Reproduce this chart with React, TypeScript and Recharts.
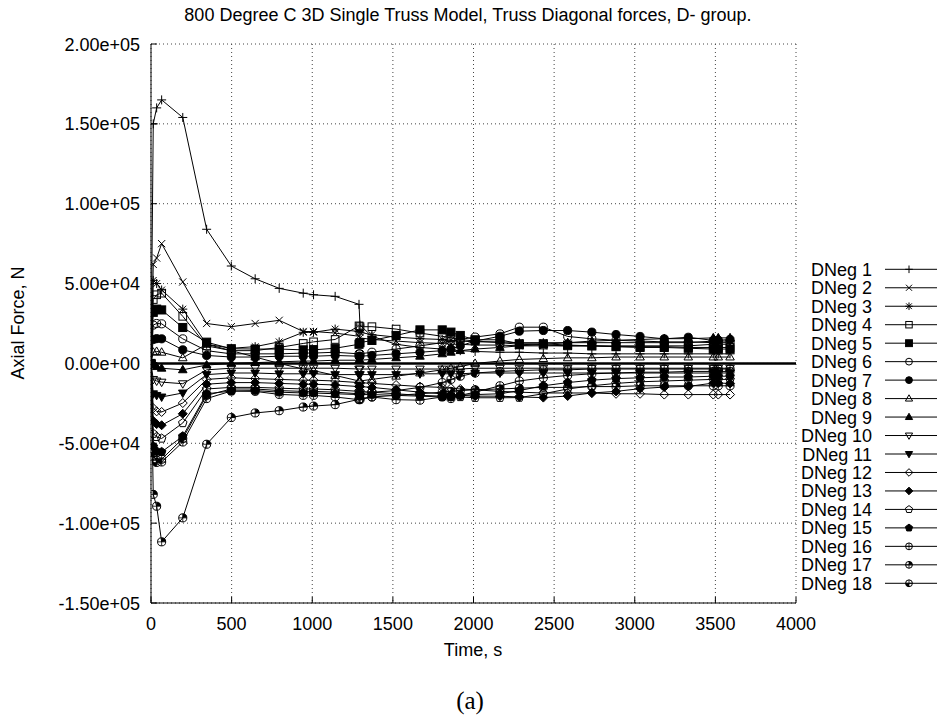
import React from 'react';
import { LineChart, Line, XAxis, YAxis, CartesianGrid, ReferenceLine, Legend } from 'recharts';

const FONT = '"Liberation Sans", Arial, Helvetica, sans-serif';

const times = [0, 14, 35, 66, 197, 345, 498, 646, 795, 944, 1008, 1142, 1290, 1296, 1370, 1520, 1668, 1806, 1860, 1918, 2010, 2164, 2284, 2433, 2584, 2734, 2884, 3033, 3183, 3332, 3487, 3518, 3591];

const dneg1 = [0, 150000, 160000, 165000, 154000, 84000, 61000, 53000, 47000, 44000, 43000, 42000, 37000, 24000, 17000, 12000, 10000, 9000, 8500, 8000, 7500, 7000, 7000, 6500, 6500, 6000, 6000, 6000, 6000, 6000, 6000, 6000, 6000];
const dneg2 = [0, 62000, 66000, 75000, 51000, 25000, 23000, 25000, 27000, 20000, 20000, 19000, 17000, 16000, 15000, 14000, 13000, 12500, 12000, 12000, 11500, 11500, 11000, 11000, 11000, 11000, 11000, 11000, 11000, 11000, 12000, 12000, 12000];
const dneg3 = [0, 52000, 50000, 46000, 34000, 12000, 9500, 10500, 13500, 19500, 19500, 21500, 20000, 19500, 18000, 16500, 15500, 15000, 14500, 14000, 13500, 13500, 13000, 13000, 13000, 13000, 13000, 13000, 13000, 13000, 14000, 14000, 14000];
const dneg4 = [0, 40000, 43000, 44000, 29500, 11000, 8000, 8000, 10000, 12500, 13500, 15000, 23500, 23000, 23000, 21500, 19000, 17000, 16000, 15000, 14000, 13000, 12000, 11500, 11000, 11000, 10500, 10500, 10500, 10000, 10000, 10000, 10000];
const dneg5 = [0, 32000, 34000, 33500, 22500, 13300, 9200, 9000, 9000, 8500, 8500, 9500, 12000, 13000, 14400, 17500, 21000, 21000, 19600, 17500, 14800, 14800, 12300, 12300, 11500, 11000, 10500, 10000, 10000, 9500, 9000, 9000, 9000];
const dneg6 = [0, 24000, 25000, 24800, 15400, 8000, 6000, 6000, 6000, 6500, 6500, 7000, 6000, 6000, 7000, 9000, 11000, 13000, 14000, 15000, 16500, 18500, 22700, 22700, 16900, 15400, 14500, 14000, 13500, 13500, 13000, 13000, 13000];
const dneg7 = [0, 15000, 15500, 15400, 8500, 5000, 4000, 4000, 4500, 4500, 4500, 5000, 4500, 4500, 5000, 6000, 7000, 8000, 9000, 11000, 14000, 17000, 20200, 20600, 20600, 19600, 18100, 16900, 15400, 16400, 14400, 14500, 15000];
const dneg8 = [0, 7000, 7500, 7000, 3500, 12000, 8000, 4000, 0, -3500, -4500, -7500, -11000, -11000, -10000, -8000, -6000, -4000, -3000, -2000, 0, 1500, 2500, 3000, 3500, 3500, 4000, 4000, 4000, 4000, 4000, 4000, 4000];
const dneg9 = [0, -1000, -2000, -3000, -4000, -1000, 0, 500, 1000, 1500, 1500, 2000, 2000, 2000, 2500, 3500, 4500, 6000, 7000, 8000, 9000, 10000, 11000, 12000, 13000, 14000, 14500, 15000, 15500, 15500, 16000, 16000, 16000];
const dneg10 = [0, -10000, -11000, -11700, -12700, -4000, -3000, -3000, -3000, -3000, -3000, -3000, -3500, -3500, -3500, -3500, -3500, -3500, -3500, -3500, -3000, -3000, -3000, -3000, -3000, -3000, -3000, -3000, -3000, -3000, -3000, -3000, -3000];
const dneg11 = [0, -19000, -20000, -21000, -18500, -7000, -6000, -6000, -6500, -6500, -6500, -7000, -7000, -7000, -7000, -7000, -6500, -6500, -6500, -6500, -6000, -6000, -6000, -6000, -6000, -6000, -6000, -6000, -6000, -6000, -6000, -6000, -6000];
const dneg12 = [0, -28000, -30000, -30400, -24800, -10000, -9000, -9500, -10000, -10500, -10500, -11000, -12000, -12000, -12500, -13500, -14500, -15000, -15500, -16000, -16500, -17500, -18000, -18500, -18500, -18500, -19000, -19000, -19500, -19500, -19500, -19500, -19500];
const dneg13 = [0, -36000, -38000, -38700, -31500, -13000, -12000, -12000, -12500, -13000, -13000, -13500, -14500, -14500, -15000, -16500, -18000, -19000, -19500, -20000, -20500, -20500, -21000, -21400, -20400, -18500, -17500, -15800, -14800, -14400, -12300, -12300, -12500];
const dneg14 = [0, -44000, -46000, -47000, -37300, -16000, -15000, -15000, -15500, -16000, -16000, -16500, -17500, -17500, -18000, -19000, -20000, -20500, -21000, -21000, -21500, -21500, -21400, -19000, -16000, -14000, -12500, -11500, -11000, -10500, -10000, -10000, -10000];
const dneg15 = [0, -52000, -55000, -55400, -45600, -19000, -17300, -17000, -18000, -18500, -18500, -19000, -19500, -19500, -19500, -20000, -20500, -21000, -21000, -20000, -19500, -19000, -17000, -14000, -12000, -10500, -9500, -9000, -8500, -8500, -8000, -8000, -8000];
const dneg16 = [0, -58000, -60600, -61700, -49200, -22000, -17300, -17500, -19400, -20000, -20000, -21000, -22700, -22700, -21000, -22700, -23000, -21000, -22000, -20000, -18000, -14000, -11000, -9000, -7500, -6500, -6000, -5500, -5500, -5000, -5000, -5000, -5000];
const dneg17 = [0, -82000, -89400, -111700, -96700, -50600, -33900, -31000, -29600, -27300, -26700, -25800, -22500, -22000, -21000, -20000, -19000, -18000, -17500, -17000, -16500, -16000, -15500, -15000, -15000, -14500, -14500, -14000, -14000, -14000, -14000, -14000, -14000];
const dneg18 = [0, -56000, -62000, -60000, -47000, -20000, -16000, -16000, -17000, -17500, -17500, -18000, -19000, -19000, -18000, -17000, -15000, -12000, -10000, -8000, -6000, -5000, -4500, -4000, -4000, -3500, -3500, -3500, -3500, -3500, -3500, -3500, -3500];

const seriesValues = [dneg1, dneg2, dneg3, dneg4, dneg5, dneg6, dneg7, dneg8, dneg9, dneg10, dneg11, dneg12, dneg13, dneg14, dneg15, dneg16, dneg17, dneg18];
const seriesNames = ['DNeg 1', 'DNeg 2', 'DNeg 3', 'DNeg 4', 'DNeg 5', 'DNeg 6', 'DNeg 7', 'DNeg 8', 'DNeg 9', 'DNeg 10', 'DNeg 11', 'DNeg 12', 'DNeg 13', 'DNeg 14', 'DNeg 15', 'DNeg 16', 'DNeg 17', 'DNeg 18'];

const xTicks = [0, 500, 1000, 1500, 2000, 2500, 3000, 3500, 4000];
const yTicks = [-150000, -100000, -50000, 0, 50000, 100000, 150000, 200000];
const yTickLabels = ['-1.50e+05', '-1.00e+05', '-5.00e+04', '0.00e+00', '5.00e+04', '1.00e+05', '1.50e+05', '2.00e+05'];

const data = times.map((t, i) => {
  const row: any = { t };
  seriesValues.forEach((arr, k) => { row['s' + (k + 1)] = arr[i]; });
  return row;
});

const Marker = ({ type, cx, cy, s = 4.5 }: { type: number; cx: number; cy: number; s?: number }) => {
  if (cx == null || cy == null || isNaN(cx) || isNaN(cy)) return null;
  const st = '#000';
  const r = s * 0.9;
  const tri = (up: boolean) => {
    const d = up ? 1 : -1;
    return `${cx},${cy - d * s} ${cx + s * 0.95},${cy + d * s * 0.65} ${cx - s * 0.95},${cy + d * s * 0.65}`;
  };
  const dia = `${cx},${cy - s} ${cx + s},${cy} ${cx},${cy + s} ${cx - s},${cy}`;
  const pent = [0, 1, 2, 3, 4].map((k) => {
    const a = -Math.PI / 2 + (k * 2 * Math.PI) / 5;
    return `${cx + s * Math.cos(a)},${cy + s * Math.sin(a)}`;
  }).join(' ');
  switch (type) {
    case 1:
      return <path d={`M${cx - s},${cy}H${cx + s}M${cx},${cy - s}V${cy + s}`} stroke={st} fill="none" />;
    case 2: {
      const q = s * 0.8;
      return <path d={`M${cx - q},${cy - q}L${cx + q},${cy + q}M${cx - q},${cy + q}L${cx + q},${cy - q}`} stroke={st} fill="none" />;
    }
    case 3: {
      const q = s * 0.75;
      return <path d={`M${cx - s},${cy}H${cx + s}M${cx},${cy - s}V${cy + s}M${cx - q},${cy - q}L${cx + q},${cy + q}M${cx - q},${cy + q}L${cx + q},${cy - q}`} stroke={st} fill="none" />;
    }
    case 4:
      return <rect x={cx - s * 0.85} y={cy - s * 0.85} width={s * 1.7} height={s * 1.7} stroke={st} fill="none" />;
    case 5:
      return <rect x={cx - s * 0.9} y={cy - s * 0.9} width={s * 1.8} height={s * 1.8} stroke={st} fill="#000" />;
    case 6:
      return <circle cx={cx} cy={cy} r={r} stroke={st} fill="none" />;
    case 7:
      return <circle cx={cx} cy={cy} r={r} stroke={st} fill="#000" />;
    case 8:
      return <polygon points={tri(true)} stroke={st} fill="none" />;
    case 9:
      return <polygon points={tri(true)} stroke={st} fill="#000" />;
    case 10:
      return <polygon points={tri(false)} stroke={st} fill="none" />;
    case 11:
      return <polygon points={tri(false)} stroke={st} fill="#000" />;
    case 12:
      return <polygon points={dia} stroke={st} fill="none" />;
    case 13:
      return <polygon points={dia} stroke={st} fill="#000" />;
    case 14:
      return <polygon points={pent} stroke={st} fill="none" />;
    case 15:
      return <polygon points={pent} stroke={st} fill="#000" />;
    case 16:
      return (
        <g>
          <circle cx={cx} cy={cy} r={r} stroke={st} fill="none" />
          <path d={`M${cx - r},${cy}H${cx + r}M${cx},${cy - r}V${cy + r}`} stroke={st} strokeWidth={0.8} />
        </g>
      );
    case 17:
      return (
        <g>
          <path d={`M${cx},${cy}V${cy - r}A${r},${r} 0 0 1 ${cx + r},${cy}Z`} fill="#000" />
          <circle cx={cx} cy={cy} r={r} stroke={st} fill="none" />
          <path d={`M${cx - r},${cy}H${cx + r}M${cx},${cy - r}V${cy + r}`} stroke={st} strokeWidth={0.8} />
        </g>
      );
    default:
      return (
        <g>
          <path d={`M${cx},${cy}V${cy + r}A${r},${r} 0 0 1 ${cx - r},${cy}Z`} fill="#000" />
          <circle cx={cx} cy={cy} r={r} stroke={st} fill="none" />
          <path d={`M${cx - r},${cy}H${cx + r}M${cx},${cy - r}V${cy + r}`} stroke={st} strokeWidth={0.8} />
        </g>
      );
  }
};

const makeDot = (type: number) => (p: any) => (
  <g key={`d${type}-${p.index}`}>
    <Marker type={type} cx={p.cx} cy={p.cy} />
  </g>
);

const BottomTick = (p: any) => (
  <g>
    <line x1={p.x} y1={p.y} x2={p.x} y2={p.y - 6} stroke="#000" />
    <text x={p.x} y={p.y + 27} textAnchor="middle" fontSize={18} fontFamily={FONT} fill="#000">{p.payload.value}</text>
  </g>
);

const TopTick = (p: any) => (
  <line x1={p.x} y1={p.y} x2={p.x} y2={p.y + 6} stroke="#000" />
);

const LeftTick = (p: any) => {
  const idx = yTicks.indexOf(p.payload.value);
  return (
    <g>
      <line x1={p.x} y1={p.y} x2={p.x + 6} y2={p.y} stroke="#000" />
      <text x={p.x - 11} y={p.y + 6.5} textAnchor="end" fontSize={18} fontFamily={FONT} fill="#000">{yTickLabels[idx]}</text>
    </g>
  );
};

const RightTick = (p: any) => (
  <line x1={p.x} y1={p.y} x2={p.x - 6} y2={p.y} stroke="#000" />
);

const renderLegend = () => (
  <svg width={148} height={345} style={{ display: 'block' }}>
    {seriesNames.map((n, i) => {
      const y = 19.3 + i * 18.47;
      return (
        <g key={n}>
          <text x={82} y={y + 6.5} textAnchor="end" fontSize={18} fontFamily={FONT} fill="#000">{n}</text>
          <line x1={95} x2={147} y1={y} y2={y} stroke="#000" />
          <Marker type={i + 1} cx={119} cy={y} s={3.8} />
        </g>
      );
    })}
  </svg>
);

export default function App() {
  return (
    <div style={{ position: 'absolute', left: 0, top: 0, width: 938, height: 720, background: '#fff' }}>
      <LineChart width={938} height={720} data={data} margin={{ top: 44, right: 142, bottom: 57, left: 51 }}>
        <CartesianGrid stroke="#444" strokeDasharray="1 3" />
        <XAxis
          dataKey="t"
          type="number"
          domain={[0, 4000]}
          ticks={xTicks}
          interval={0}
          height={60}
          tickSize={0}
          tickMargin={0}
          tickLine={false}
          axisLine={{ stroke: '#000' }}
          tick={<BottomTick />}
          allowDataOverflow
        />
        <XAxis
          xAxisId="top"
          orientation="top"
          dataKey="t"
          type="number"
          domain={[0, 4000]}
          ticks={xTicks}
          interval={0}
          height={0}
          tickSize={0}
          tickMargin={0}
          tickLine={false}
          axisLine={{ stroke: '#000' }}
          tick={<TopTick />}
          allowDataOverflow
        />
        <YAxis
          type="number"
          domain={[-150000, 200000]}
          ticks={yTicks}
          interval={0}
          width={100}
          tickSize={0}
          tickMargin={0}
          tickLine={false}
          axisLine={{ stroke: '#000' }}
          tick={<LeftTick />}
          allowDataOverflow
        />
        <YAxis
          yAxisId="right"
          orientation="right"
          type="number"
          domain={[-150000, 200000]}
          ticks={yTicks}
          interval={0}
          width={0}
          tickSize={0}
          tickMargin={0}
          tickLine={false}
          axisLine={{ stroke: '#000' }}
          tick={<RightTick />}
          allowDataOverflow
        />
        <ReferenceLine y={0} stroke="#000" strokeWidth={2.5} />
        {seriesNames.map((n, k) => (
          <Line
            key={n}
            name={n}
            dataKey={'s' + (k + 1)}
            stroke="#000"
            strokeWidth={1}
            dot={makeDot(k + 1)}
            activeDot={false}
            isAnimationActive={false}
          />
        ))}
        <Legend
          layout="vertical"
          align="center"
          verticalAlign="middle"
          content={renderLegend}
          wrapperStyle={{ position: 'absolute', left: 790, top: 250, width: 148, height: 345 }}
        />
      </LineChart>
      <svg width={938} height={720} style={{ position: 'absolute', left: 0, top: 0, pointerEvents: 'none' }}>
        <text x={468} y={21} textAnchor="middle" fontSize={18} fontFamily={FONT} fill="#000">
          800 Degree C 3D Single Truss Model, Truss Diagonal forces, D- group.
        </text>
        <text x={0} y={0} transform="translate(24,323) rotate(-90)" textAnchor="middle" fontSize={18} fontFamily={FONT} fill="#000">
          Axial Force, N
        </text>
        <text x={473} y={656} textAnchor="middle" fontSize={18} fontFamily={FONT} fill="#000">Time, s</text>
        <text x={470} y={709} textAnchor="middle" fontSize={25} fontFamily={'"Liberation Serif", "DejaVu Serif", serif'} fill="#000">(a)</text>
      </svg>
    </div>
  );
}
